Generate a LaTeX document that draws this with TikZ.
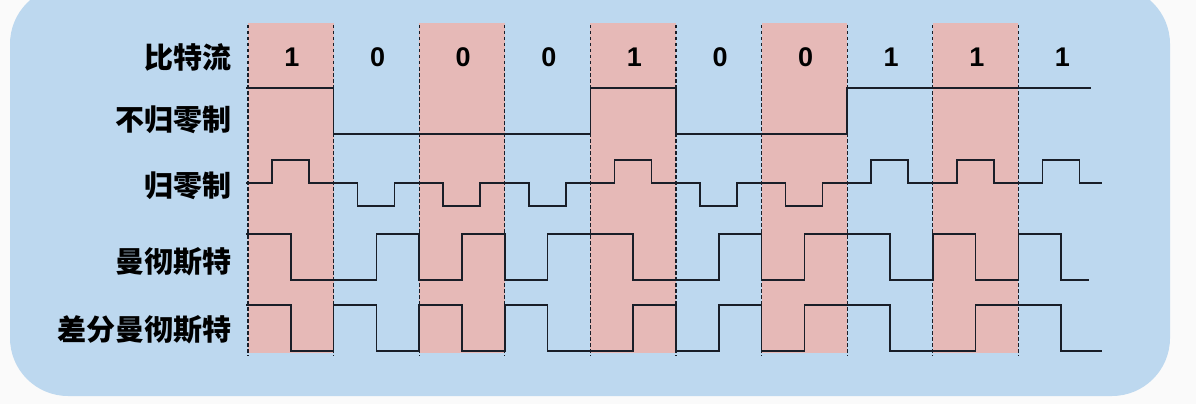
\documentclass[tikz,border=0pt]{standalone}
\usepackage{fontspec}
\setmainfont{Liberation Sans}
\newfontfamily\cjk{Noto Sans CJK SC}
\definecolor{bgblue}{RGB}{189,216,239}
\definecolor{bitpink}{RGB}{230,185,183}
\definecolor{outer}{RGB}{250,250,250}
\definecolor{sig}{RGB}{25,30,40}
\tikzset{
  rowlabel/.style={anchor=east,inner sep=0pt,font=\cjk\bfseries\fontsize{29}{31}\selectfont},
  bitlabel/.style={inner sep=0pt,font=\bfseries\fontsize{27}{30}\selectfont},
  wave/.style={draw=sig,line width=1.5pt,line join=miter},
  bound/.style={draw=sig,line width=1.2pt,dash pattern=on 3.5pt off 2.5pt},
  pinkcol/.style={fill=bitpink,draw=none}
}
\begin{document}
\begin{tikzpicture}[x=1pt,y=-1pt]
\useasboundingbox (0,0) rectangle (1196,404);
\fill[outer] (0,0) rectangle (1196,404);
\fill[bgblue,rounded corners=58pt] (10,-14) rectangle (1170,396);
% pink columns
\foreach \i in {0,2,4,6,8}
  \fill[pinkcol] ({248+85.6*\i},23) rectangle ({248+85.6*(\i+1)},353);
% dashed boundaries
\foreach \i in {0,...,9}
  \draw[bound] ({248+85.6*\i},25) -- ({248+85.6*\i},356);
% row labels
\node[rowlabel] (lbit) at (232,57) {比特流};
\node[rowlabel] (lnrz) at (232,120) {不归零制};
\node[rowlabel] (lrz) at (232,186) {归零制};
\node[rowlabel] (lman) at (232,262) {曼彻斯特};
\node[rowlabel] (ldman) at (232,330) {差分曼彻斯特};
% bit labels
\foreach \b [count=\i from 0] in {1,0,0,0,1,0,0,1,1,1}
  \node[bitlabel] (bit\i) at ({248+85.6*\i+44},57) {\b};
% NRZ
\draw[wave] (246,88) -- (333.6,88) -- (333.6,134) -- (590.4,134) -- (590.4,88) -- (676,88) -- (676,134) -- (847.2,134) -- (847.2,88) -- (1091,88);
% RZ
\draw[wave] (246,183) \foreach \b [count=\i from 0] in {1,0,0,0,1,0,0,1,1,1} {
  -- ({248+85.6*\i+24},183) -- ({248+85.6*\i+24},{206-46*\b}) -- ({248+85.6*\i+61},{206-46*\b}) -- ({248+85.6*\i+61},183)
} -- (1102,183);
% Manchester
\draw[wave] (246,234) -- (290.8,234) -- (290.8,280) -- (376.4,280) -- (376.4,234) -- (419.2,234) -- (419.2,280) -- (462,280) -- (462,234) -- (504.8,234) -- (504.8,280) -- (547.6,280) -- (547.6,234) -- (633.2,234) -- (633.2,280) -- (718.8,280) -- (718.8,234) -- (761.6,234) -- (761.6,280) -- (804.4,280) -- (804.4,234) -- (890,234) -- (890,280) -- (932.8,280) -- (932.8,234) -- (975.6,234) -- (975.6,280) -- (1018.4,280) -- (1018.4,234) -- (1061.2,234) -- (1061.2,280) -- (1089,280);
% Differential Manchester
\draw[wave] (246,305) -- (290.8,305) -- (290.8,351) -- (333.6,351) -- (333.6,305) -- (376.4,305) -- (376.4,351) -- (419.2,351) -- (419.2,305) -- (462,305) -- (462,351) -- (504.8,351) -- (504.8,305) -- (547.6,305) -- (547.6,351) -- (633.2,351) -- (633.2,305) -- (676,305) -- (676,351) -- (718.8,351) -- (718.8,305) -- (761.6,305) -- (761.6,351) -- (804.4,351) -- (804.4,305) -- (890,305) -- (890,351) -- (975.6,351) -- (975.6,305) -- (1061.2,305) -- (1061.2,351) -- (1102,351);
\end{tikzpicture}
\end{document}
